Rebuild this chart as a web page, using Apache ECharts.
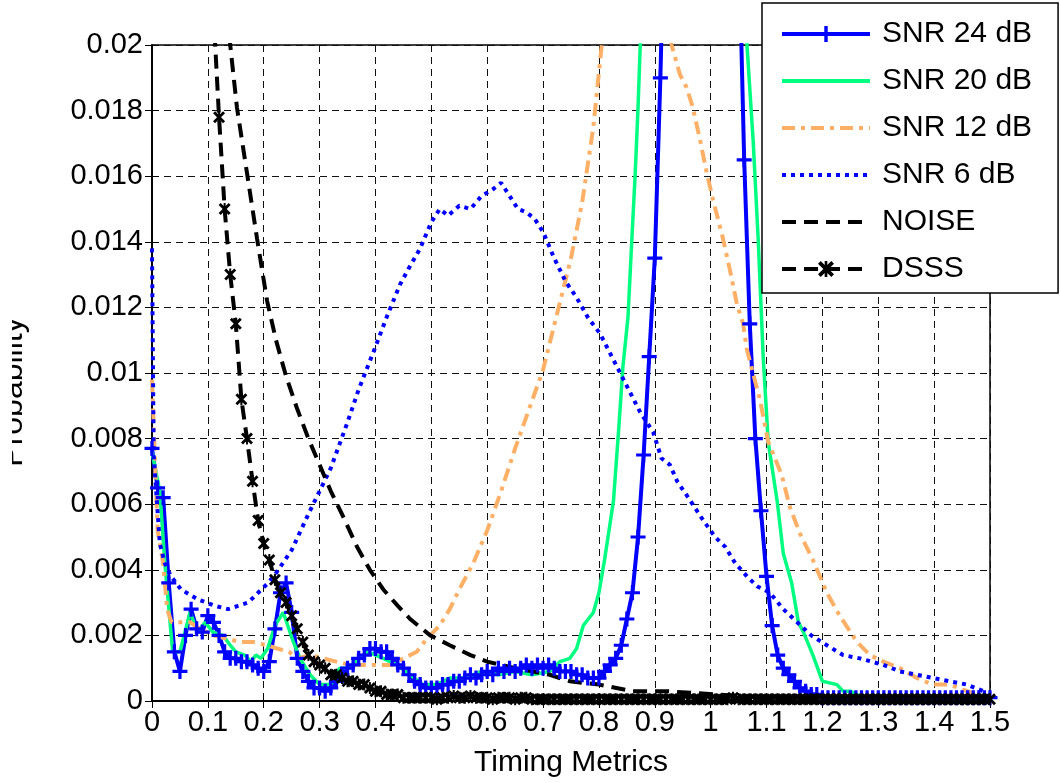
<!DOCTYPE html>
<html>
<head>
<meta charset="utf-8">
<script src="https://cdn.jsdelivr.net/npm/echarts@6/dist/echarts.min.js"></script>
<style>
  html, body { margin: 0; padding: 0; background: #fff; }
  #chart { width: 1061px; height: 783px; }
</style>
</head>
<body>
<div id="chart"></div>
<script>
// x grid for the two marker series: 0 .. 1.5, step 0.01
var xStep = [];
for (var i = 0; i <= 150; i++) xStep.push(+(i / 100).toFixed(2));

var snr24 = [
  0.0077, 0.0065, 0.0062, 0.0036, 0.0015, 0.0009, 0.0020, 0.0028, 0.0022, 0.0021,
  0.0026, 0.0024, 0.0020, 0.0015, 0.0013, 0.0013, 0.0012, 0.0012, 0.0011, 0.0010,
  0.0009, 0.0012, 0.0022, 0.0033, 0.0036, 0.0027, 0.0013, 0.0009, 0.0006, 0.0004,
  0.0004, 0.0003, 0.0004, 0.0006, 0.0008, 0.0010, 0.0011, 0.0013, 0.0014, 0.0016,
  0.0016, 0.0015, 0.0015, 0.0013, 0.0011, 0.0010, 0.0008, 0.0006, 0.0005, 0.0004,
  0.0004, 0.0004, 0.0005, 0.0005, 0.0006, 0.0006, 0.0007, 0.0008, 0.0007, 0.0008,
  0.0009, 0.0008, 0.0010, 0.0009, 0.0010, 0.0009, 0.0010, 0.0011, 0.0010, 0.0011,
  0.0010, 0.0011, 0.0010, 0.0009, 0.0009, 0.0009, 0.0008, 0.0008, 0.0007, 0.0007,
  0.0007, 0.0009, 0.0011, 0.0013, 0.0017, 0.0025, 0.0033, 0.0050, 0.0075, 0.0105,
  0.0135, 0.0190, 0.0260, 0.0330, 0.0400, 0.0450, 0.0480, 0.0500, 0.0500, 0.0490,
  0.0470, 0.0440, 0.0400, 0.0350, 0.0300, 0.0235, 0.0165, 0.0115, 0.0080, 0.0058,
  0.0038, 0.0023, 0.0014, 0.0010, 0.0008, 0.0006, 0.0004, 0.0003, 0.0002, 0.0002,
  0.0001, 0.0001, 0.0001, 0.0001, 0.0001, 0.0001, 0.0001, 0.0001, 0.0001, 0.0001,
  0.0001, 0.0001, 0.0001, 0.0001, 0.0001, 0.0001, 0.0001, 0.0001, 0.0001, 0.0001,
  0.0001, 0.0001, 0.0001, 0.0001, 0.0001, 0.0001, 0.0001, 0.0001, 0.0001, 0.0001,
  0.0001
];

var dsss = [
  0.1000, 0.0900, 0.0800, 0.0700, 0.0600, 0.0500, 0.0420, 0.0350, 0.0290, 0.0240,
  0.0240, 0.0210, 0.0178, 0.0150, 0.0130, 0.0115, 0.0092, 0.0080, 0.0067, 0.0055,
  0.0048, 0.0043, 0.0037, 0.0033, 0.0030, 0.0026, 0.0022, 0.0018, 0.0014, 0.0012,
  0.0011, 0.0010, 0.0008, 0.0008, 0.0007, 0.0006, 0.0006, 0.0005, 0.0005, 0.0004,
  0.0003, 0.0003, 0.0002, 0.0002, 0.0002, 0.0001, 0.0001, 0.0001, 0.0001, 0.0001,
  0.0001, 0.00005, 0.0001, 0.0001, 0.00015, 0.0001, 0.0001, 0.00015, 0.0001, 0.0001,
  0.0001, 0.00005, 0.0001, 0.0001, 0.0001, 0.00005, 0.0001, 0.0001, 0.00005, 0.00005,
  0.00005, 0.00005, 0.00005, 0.00005, 0.00005, 0.00005, 0.00005, 0.00005, 0.00005, 0.00005,
  0.00005, 0.00005, 0.00005, 0.00005, 0.00005, 0.00005, 0.00005, 0.00005, 0.00005, 0.00005,
  0.00005, 0.00005, 0.00005, 0.00005, 0.00005, 0.00005, 0.00005, 0.00005, 0.00005, 0.00005,
  0.00005, 0.00005, 0.00005, 0.00005, 0.0001, 0.00005, 0.00005, 0.00005, 0.00005, 0.00005,
  0.00005, 0.00005, 0.00005, 0.00005, 0.00005, 0.00005, 0.00005, 0.00005, 0.00005, 0.00005,
  0.00005, 0.00005, 0.00005, 0.00005, 0.00005, 0.00005, 0.00005, 0.00005, 0.00005, 0.00005,
  0.00005, 0.00005, 0.00005, 0.00005, 0.00005, 0.00005, 0.00005, 0.00005, 0.00005, 0.00005,
  0.00005, 0.00005, 0.00005, 0.00005, 0.00005, 0.00005, 0.00005, 0.00005, 0.00005, 0.00005,
  0.00005
];

var snr20 = [
  [0, 0.0076], [0.014, 0.0064], [0.023, 0.0042], [0.037, 0.0015], [0.05, 0.0015],
  [0.068, 0.0027], [0.082, 0.0021], [0.095, 0.0024], [0.109, 0.0021], [0.127, 0.0020],
  [0.14, 0.0017], [0.15, 0.0015], [0.166, 0.0014], [0.177, 0.0012], [0.186, 0.0014],
  [0.195, 0.0013], [0.207, 0.0016], [0.22, 0.0023], [0.235, 0.0027], [0.253, 0.0018],
  [0.265, 0.0013], [0.283, 0.0008], [0.30, 0.0005], [0.32, 0.0005], [0.336, 0.0010],
  [0.35, 0.0010], [0.372, 0.0013], [0.387, 0.0015], [0.414, 0.0013], [0.438, 0.0011],
  [0.462, 0.0008], [0.485, 0.0005], [0.51, 0.0005], [0.533, 0.0007], [0.56, 0.0007],
  [0.59, 0.0009], [0.62, 0.0008], [0.65, 0.0009], [0.68, 0.0008], [0.712, 0.0009],
  [0.73, 0.0012], [0.748, 0.0013], [0.76, 0.0016], [0.772, 0.0023], [0.79, 0.0027],
  [0.80, 0.0033], [0.81, 0.0043], [0.826, 0.0061], [0.835, 0.0082], [0.843, 0.0102],
  [0.852, 0.0117], [0.859, 0.0141], [0.865, 0.0161], [0.87, 0.0181], [0.875, 0.0205],
  [0.89, 0.0300], [0.95, 0.0500], [1.0, 0.0500], [1.05, 0.0300], [1.065, 0.0200],
  [1.076, 0.0171], [1.085, 0.0141], [1.094, 0.0105], [1.103, 0.0079], [1.119, 0.0061],
  [1.13, 0.0045], [1.145, 0.0036], [1.157, 0.0024], [1.166, 0.0021], [1.183, 0.0014],
  [1.20, 0.0006], [1.226, 0.0005], [1.237, 0.0003], [1.25, 0.0003], [1.267, 0.00015],
  [1.28, 0.0001], [1.5, 0.00005]
];

var snr12 = [
  [0, 0.0098], [0.005, 0.0075], [0.01, 0.0052], [0.02, 0.0042], [0.027, 0.0028],
  [0.035, 0.0024], [0.068, 0.0024], [0.086, 0.0022], [0.109, 0.0020], [0.134, 0.0019],
  [0.158, 0.0018], [0.181, 0.0018], [0.205, 0.0017], [0.224, 0.0016], [0.245, 0.0015],
  [0.26, 0.0013], [0.283, 0.0014], [0.306, 0.0013], [0.33, 0.0012], [0.355, 0.0011],
  [0.40, 0.0011], [0.43, 0.0011], [0.45, 0.0013], [0.474, 0.0015], [0.492, 0.0019],
  [0.515, 0.0023], [0.533, 0.0028], [0.55, 0.0034], [0.575, 0.0042], [0.6, 0.0052],
  [0.625, 0.0064], [0.65, 0.0077], [0.675, 0.0089], [0.7, 0.0101], [0.725, 0.0118],
  [0.75, 0.0135], [0.77, 0.0152], [0.79, 0.0175], [0.805, 0.0200], [0.82, 0.0240],
  [0.87, 0.0300], [0.91, 0.0250], [0.93, 0.0200], [0.945, 0.0191], [0.957, 0.0187],
  [0.968, 0.0181], [0.981, 0.0171], [0.993, 0.0161], [1.004, 0.0153], [1.022, 0.0141],
  [1.035, 0.0131], [1.047, 0.0121], [1.058, 0.0115], [1.065, 0.0107], [1.088, 0.0092],
  [1.103, 0.0079], [1.127, 0.0069], [1.142, 0.0059], [1.16, 0.0051], [1.183, 0.0043],
  [1.208, 0.0033], [1.231, 0.0026], [1.262, 0.0018], [1.285, 0.0014], [1.309, 0.0012],
  [1.339, 0.0010], [1.369, 0.0007], [1.398, 0.0005], [1.428, 0.0005], [1.459, 0.0003],
  [1.488, 0.00015], [1.5, 0.0001]
];

var snr6 = [
  [0, 0.0138], [0.003, 0.0075], [0.014, 0.0048], [0.023, 0.0042], [0.034, 0.0038],
  [0.052, 0.0034], [0.082, 0.0031], [0.113, 0.0029], [0.136, 0.0028], [0.154, 0.0029],
  [0.172, 0.0030], [0.19, 0.0033], [0.208, 0.0036], [0.222, 0.0039], [0.25, 0.0046],
  [0.28, 0.0057], [0.32, 0.0071], [0.35, 0.0085], [0.37, 0.0095], [0.4, 0.0108],
  [0.42, 0.0117], [0.444, 0.0127], [0.46, 0.0132], [0.48, 0.0138], [0.5, 0.0146],
  [0.515, 0.0150], [0.53, 0.0148], [0.55, 0.0151], [0.57, 0.0150], [0.59, 0.0154],
  [0.61, 0.0156], [0.625, 0.0158], [0.64, 0.0154], [0.655, 0.0150], [0.67, 0.0149],
  [0.685, 0.0147], [0.70, 0.0143], [0.72, 0.0135], [0.74, 0.0128], [0.76, 0.0123],
  [0.78, 0.0117], [0.802, 0.0112], [0.826, 0.0104], [0.85, 0.0096], [0.874, 0.0088],
  [0.897, 0.0082], [0.912, 0.0074], [0.927, 0.0072], [0.94, 0.0067], [0.96, 0.0062],
  [0.987, 0.0055], [1.008, 0.0050], [1.026, 0.0047], [1.044, 0.0042], [1.065, 0.0038],
  [1.083, 0.0035], [1.106, 0.0033], [1.13, 0.0028], [1.155, 0.0024], [1.18, 0.0020],
  [1.208, 0.0017], [1.237, 0.0014], [1.267, 0.0013], [1.309, 0.0011], [1.339, 0.0009],
  [1.369, 0.0008], [1.398, 0.0007], [1.428, 0.0006], [1.459, 0.0005], [1.488, 0.0003],
  [1.5, 0.0000]
];

var noise = [
  [0, 0.2000], [0.05, 0.0800], [0.1, 0.0350], [0.12, 0.0260], [0.14, 0.0200],
  [0.152, 0.0181], [0.17, 0.0161], [0.188, 0.0141], [0.206, 0.0122], [0.222, 0.0110],
  [0.24, 0.0099], [0.26, 0.0089], [0.28, 0.0080], [0.30, 0.0072], [0.32, 0.0064],
  [0.34, 0.0057], [0.367, 0.0047], [0.39, 0.0040], [0.414, 0.0034], [0.44, 0.0029],
  [0.462, 0.0025], [0.498, 0.0020], [0.533, 0.0017], [0.57, 0.0014], [0.6, 0.0012],
  [0.65, 0.0010], [0.712, 0.0008], [0.748, 0.0006], [0.8, 0.0005], [0.86, 0.0003],
  [0.92, 0.0003], [1.01, 0.0002], [1.1, 0.0001], [1.2, 0.0001], [1.3, 0.0001],
  [1.4, 0.0001], [1.5, 0.0001]
];

var legendNames = ['SNR 24 dB', 'SNR 20 dB', 'SNR 12 dB', 'SNR 6 dB', 'NOISE', 'DSSS'];
var markerSeries = ['SNR 24 dB', 'DSSS'];

function zip(xs, ys) {
  return ys.map(function (y, i) { return [xs[i], y]; });
}

var FONT = 'Liberation Sans, Arial, sans-serif';
var plusPath = 'path://M0,5.5H14V8.5H0z M5.5,0H8.5V14H5.5z';
var starPath = 'path://M2,0L6,4L10,0L12,2L8,6L12,10L10,12L6,8L2,12L0,10L4,6L0,2Z M5,0H7V12H5z';

var myChart = echarts.init(document.getElementById('chart'));

option = {
    animation: false,
    backgroundColor: '#fff',
    grid: {
        left: 152,
        right: 71,
        top: 45,
        bottom: 81,
        show: true,
        borderColor: '#000',
        borderWidth: 1.5
    },
    legend: {
        data: legendNames.map(function (n) {
            return markerSeries.indexOf(n) >= 0 ? { name: n } : { name: n, itemStyle: { opacity: 0 } };
        }),
        orient: 'vertical',
        left: 762,
        top: 3,
        z: 20,
        padding: [16, 26, 9, 18],
        itemWidth: 88,
        itemHeight: 20,
        itemGap: 17,
        backgroundColor: '#fff',
        borderColor: '#000',
        borderWidth: 1.5,
        lineStyle: { width: 4 },
        textStyle: {
            fontFamily: FONT,
            fontSize: 30,
            lineHeight: 28,
            color: '#000',
            padding: [0, 0, 0, 7]
        }
    },
    graphic: [{
        type: 'text',
        x: 29,
        y: 392,
        rotation: Math.PI / 2,
        style: {
            text: 'Probability',
            font: '32px ' + FONT,
            fill: '#000',
            textAlign: 'center',
            textVerticalAlign: 'bottom'
        }
    }, {
        type: 'rect',
        z: 100,
        shape: { x: 0, y: 280, width: 12, height: 220 },
        style: { fill: '#fff' }
    }],
    xAxis: [{
        type: 'value',
        min: 0,
        max: 1.5,
        interval: 0.1,
        name: 'Timing Metrics',
        nameLocation: 'middle',
        nameGap: 47,
        nameTextStyle: { fontFamily: FONT, fontSize: 30, color: '#000' },
        axisLine: { lineStyle: { color: '#000', width: 1.5 } },
        axisTick: { inside: true, length: 7, lineStyle: { color: '#000' } },
        axisLabel: {
            margin: 7,
            fontFamily: FONT,
            fontSize: 29,
            color: '#000',
            formatter: function (v) { return String(+v.toFixed(1)); }
        },
        splitLine: { show: true, lineStyle: { color: '#111', width: 1, type: [7, 5] } }
    }, {
        type: 'value',
        position: 'top',
        min: 0,
        max: 1.5,
        interval: 0.1,
        axisLine: { lineStyle: { color: '#000', width: 1.5 } },
        axisTick: { inside: true, length: 7, lineStyle: { color: '#000' } },
        axisLabel: { show: false },
        splitLine: { show: false }
    }],
    yAxis: [{
        type: 'value',
        min: 0,
        max: 0.02,
        interval: 0.002,
        axisLine: { show: true, lineStyle: { color: '#000', width: 1.5 } },
        axisTick: { show: true, inside: true, length: 7, lineStyle: { color: '#000' } },
        axisLabel: {
            margin: 9,
            fontFamily: FONT,
            fontSize: 29,
            color: '#000',
            formatter: function (v) { return String(+v.toFixed(3)); }
        },
        splitLine: { show: true, lineStyle: { color: '#111', width: 1, type: [7, 5] } }
    }, {
        type: 'value',
        position: 'right',
        min: 0,
        max: 0.02,
        interval: 0.002,
        axisLine: { show: true, lineStyle: { color: '#000', width: 1.5 } },
        axisTick: { show: true, inside: true, length: 7, lineStyle: { color: '#000' } },
        axisLabel: { show: false },
        splitLine: { show: false }
    }],
    series: [{
            name: 'SNR 24 dB',
            type: 'line',
            data: zip(xStep, snr24),
            symbol: plusPath,
            symbolSize: 15,
            showAllSymbol: true,
            itemStyle: { color: '#0000ff', borderWidth: 0 },
            lineStyle: { color: '#0000ff', width: 4 }
        },
        {
            name: 'SNR 20 dB',
            type: 'line',
            data: snr20,
            symbol: 'none',
            itemStyle: { color: '#00ff80' },
            lineStyle: { color: '#00ff80', width: 3.5 }
        },
        {
            name: 'SNR 12 dB',
            type: 'line',
            data: snr12,
            symbol: 'none',
            itemStyle: { color: '#ffb066' },
            lineStyle: { color: '#ffb066', width: 4, type: [13, 6, 4, 6] }
        },
        {
            name: 'SNR 6 dB',
            type: 'line',
            data: snr6,
            symbol: 'none',
            itemStyle: { color: '#0000ff' },
            lineStyle: { color: '#0000ff', width: 4, type: [4, 5] }
        },
        {
            name: 'NOISE',
            type: 'line',
            data: noise,
            symbol: 'none',
            itemStyle: { color: '#000' },
            lineStyle: { color: '#000', width: 4, type: [14, 8] }
        },
        {
            name: 'DSSS',
            type: 'line',
            data: zip(xStep, dsss),
            symbol: starPath,
            symbolSize: 12,
            showAllSymbol: true,
            itemStyle: { color: '#000', borderWidth: 0 },
            lineStyle: { color: '#000', width: 4, type: [14, 8] }
        }
    ]
};
myChart.setOption(option);
</script>
</body>
</html>
